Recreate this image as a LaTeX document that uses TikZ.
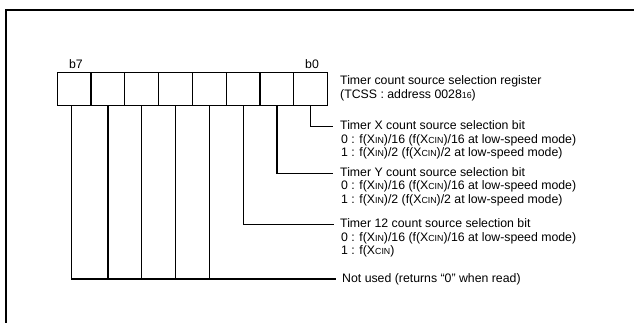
\documentclass[tikz,border=0pt]{standalone}
\usepackage{fontspec}
\setmainfont{Liberation Sans}
\newcommand\smc[1]{{\fontsize{8.8}{9}\selectfont #1}}
\begin{document}
\begin{tikzpicture}[x=1pt,y=-1pt,
  cell/.style={draw, line width=1.2pt, minimum width=33.8pt, minimum height=33pt, inner sep=0pt, outer sep=0pt},
  lbl/.style={font=\fontsize{12.3}{13.4}\selectfont, anchor=west, inner sep=0pt, text height=8.9pt, text depth=2.5pt},
  bitlbl/.style={font=\fontsize{12.3}{13.4}\selectfont, inner sep=0pt},
  wire/.style={line width=1.2pt},
  frame/.style={line width=2pt}]
\clip (0,0) rectangle (634,322);
\fill[white] (0,0) rectangle (634,322);
\draw[frame] (6,340) -- (6,10) -- (660,10);
% register cells
\node[cell] (c0) at (310.7,88.7) {};
\node[cell] (c1) at (276.9,88.7) {};
\node[cell] (c2) at (243.1,88.7) {};
\node[cell] (c3) at (209.3,88.7) {};
\node[cell] (c4) at (175.5,88.7) {};
\node[cell] (c5) at (141.7,88.7) {};
\node[cell] (c6) at (107.9,88.7) {};
\node[cell] (c7) at (74.1,88.7) {};
\node[bitlbl] (b7) at (76,64) {b7};
\node[bitlbl] (b0) at (312,64) {b0};
% register title
\node[lbl] (reg1) at (340,81.7) {Timer count source selection register};
\node[lbl] (reg2) at (340,95.1) {(TCSS : address 0028\smc{16})};
% bit 0
\node[lbl] (tx) at (340,126.7) {Timer X count source selection bit};
\node[lbl] (tx0) at (341,140.1) {0 : f(X\smc{IN})/16 (f(X\smc{CIN})/16 at low-speed mode)};
\node[lbl] (tx1) at (341,153.5) {1 : f(X\smc{IN})/2 (f(X\smc{CIN})/2 at low-speed mode)};
% bit 1
\node[lbl] (ty) at (340,173.3) {Timer Y count source selection bit};
\node[lbl] (ty0) at (341,186.7) {0 : f(X\smc{IN})/16 (f(X\smc{CIN})/16 at low-speed mode)};
\node[lbl] (ty1) at (341,200.1) {1 : f(X\smc{IN})/2 (f(X\smc{CIN})/2 at low-speed mode)};
% bit 2
\node[lbl] (t12) at (340,224.7) {Timer 12 count source selection bit};
\node[lbl] (t120) at (341,238.1) {0 : f(X\smc{IN})/16 (f(X\smc{CIN})/16 at low-speed mode)};
\node[lbl] (t121) at (341,251.5) {1 : f(X\smc{CIN})};
% not used
\node[lbl] (nu) at (342,279) {Not used (returns “0” when read)};
% connectors
\draw[wire] (c0.south) |- ([xshift=-7pt]tx.west);
\draw[wire] (c1.south) |- ([xshift=-7pt]ty.west);
\draw[wire] (c2.south) |- ([xshift=-6pt]t12.west);
\draw[wire] ([xshift=-2.4pt]c7.south) |- ([xshift=-6pt]nu.west);
\draw[wire] (c3.south) -- (c3.south |- nu.west);
\draw[wire] (c4.south) -- (c4.south |- nu.west);
\draw[wire] (c5.south) -- (c5.south |- nu.west);
\draw[wire] (c6.south) -- (c6.south |- nu.west);
\end{tikzpicture}
\end{document}
